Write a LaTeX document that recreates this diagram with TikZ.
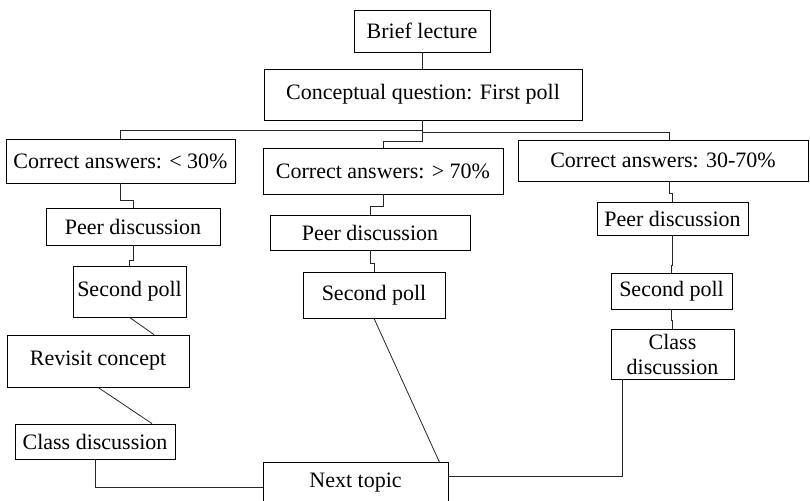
\documentclass[tikz,border=0pt]{standalone}
\usepackage{fontspec}
\setmainfont{Liberation Serif}
\usepackage{tikz}
\usetikzlibrary{positioning}

\begin{document}
\begin{tikzpicture}[
      x=1pt, y=-1pt,
      box_node/.style={
         rectangle,
         draw=black,
         line width=0.8pt,
         fill=white,
         inner sep=0pt,
         align=center,
         font=\fontsize{22}{25}\selectfont},
      link_line/.style={
         draw=black!85,
         line width=0.8pt,
         }
]
      \useasboundingbox (0,0) rectangle (810,500);
      \clip (0,0) rectangle (810,500);

      %top
      \node[box_node,minimum width=136pt,minimum height=42pt] (lecture) at (422,31) {Brief lecture};
      \node[box_node,minimum width=318pt,minimum height=51pt] (question) at (423,94.5) {Conceptual question: First poll};

      %three answer groups
      \node[box_node,minimum width=229pt,minimum height=44pt] (ans1) at (120.5,161) {Correct answers: < 30\%};
      \node[box_node,minimum width=240pt,minimum height=46pt] (ans2) at (383,171) {Correct answers: > 70\%};
      \node[box_node,minimum width=290pt,minimum height=41pt] (ans3) at (663,160.5) {Correct answers: 30-70\%};
      \coordinate (ans3_in) at ([xshift=6pt]ans3.north);
      \coordinate (ans3_out) at ([xshift=6pt]ans3.south);

      %left branch
      \node[box_node,minimum width=174pt,minimum height=37pt] (peer1) at (133,226.5) {Peer discussion};
      \node[box_node,minimum width=113pt,minimum height=51pt] (poll1) at (129.5,291.5) {Second poll};
      \node[box_node,minimum width=182pt,minimum height=52pt] (revisit) at (98,361) {Revisit concept};
      \node[box_node,minimum width=160pt,minimum height=35pt] (class1) at (95,441.5) {Class discussion};

      %middle branch
      \node[box_node,minimum width=200pt,minimum height=35pt] (peer2) at (370,232.5) {Peer discussion};
      \node[box_node,minimum width=142pt,minimum height=46pt] (poll2) at (374,295) {Second poll};

      %right branch
      \node[box_node,minimum width=151pt,minimum height=33pt] (peer3) at (672.5,218.5) {Peer discussion};
      \node[box_node,minimum width=121pt,minimum height=36pt] (poll3) at (671.5,291) {Second poll};
      \node[box_node,minimum width=123pt,minimum height=50pt] (class3) at (672.5,354) {Class\\discussion};

      %end
      \node[box_node,minimum width=185pt,minimum height=40pt] (next) at (355.5,482.5) {Next topic};

      \draw[link_line] (lecture) -- (lecture.south |- question.north);
      \draw[link_line] (lecture.south |- question.south) -- ++(0,10) -| (ans1.north);
      \draw[link_line] (lecture.south |- question.south) -- ++(0,12) -| (ans3_in);
      \draw[link_line] (lecture.south |- question.south) -- ++(0,21) -| (ans2.north);

    \foreach \i/\j/\d in {% start node/end node/drop before the step
      ans1.south/peer1.north/17,
      peer1.south/poll1.north/15,
      ans2.south/peer2.north/12,
      peer2.south/poll2.north/13,
      ans3_out/peer3.north/12,
      peer3.south/poll3.north/30,
      poll3.south/class3.north/11}
      \draw[link_line] (\i) -- ++(0,\d) -| (\j);

      \draw[link_line] (poll1.south) -- ([xshift=56pt]revisit.north);
      \draw[link_line] (revisit.south) -- ([xshift=57pt]class1.north);
      \draw[link_line] (poll2.south) -- ([xshift=-9pt]next.north east);
      \draw[link_line] (class1.south) |- ([yshift=-4.5pt]next.west);
      \draw[link_line] ([xshift=12pt]class3.south west) |- ([yshift=6.5pt]next.east);
\end{tikzpicture}
\end{document}
